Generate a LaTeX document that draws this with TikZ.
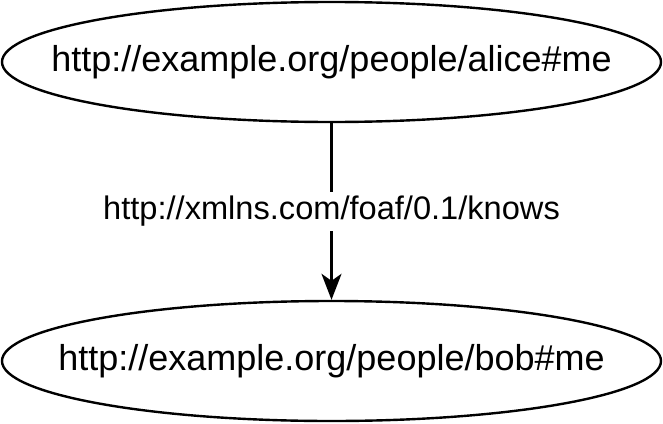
\documentclass[tikz,border=0pt]{standalone}
\usepackage{fontspec}
\setmainfont{Liberation Sans}
\usetikzlibrary{shapes.geometric,arrows.meta}

\begin{document}
\begin{tikzpicture}[x=0.5pt,y=-0.5pt,
  resource/.style={ellipse,draw,line width=1.2pt,inner sep=0pt,
    minimum width=329.5pt,minimum height=60pt},
  predicate/.style={fill=white,inner sep=2pt,font=\fontsize{16.3pt}{19pt}\selectfont}]
\useasboundingbox (0,0) rectangle (663,423);
\node[resource,label={center:\fontsize{18pt}{21pt}\selectfont http://example.org/people/alice\#me}] (alice) at (331.5,62) {};
\node[resource,label={center:\fontsize{18pt}{21pt}\selectfont http://example.org/people/bob\#me}] (bob) at (331.5,361) {};
\draw[line width=1.2pt,-{Stealth[length=13pt,width=10pt,inset=3.5pt]}] (alice) -- node[predicate] (knows) {http://xmlns.com/foaf/0.1/knows} (bob);
\end{tikzpicture}
\end{document}
